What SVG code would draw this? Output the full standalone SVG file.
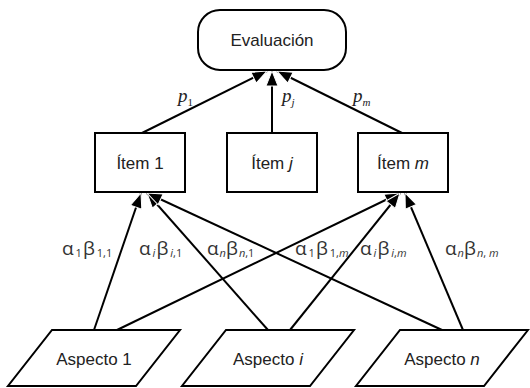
<svg xmlns="http://www.w3.org/2000/svg" width="530" height="388" viewBox="0 0 530 388">
  <style>
    .shape { fill: #fff; stroke: #000; stroke-width: 2; }
    .lbl { font-family: "Liberation Sans", Arial, sans-serif; font-size: 17px; fill: #222; text-anchor: middle; }
    .edge { stroke: #000; stroke-width: 2; fill: none; marker-end: url(#arrow); }
    .w { font-family: "Liberation Serif", "Times New Roman", serif; font-style: italic; font-size: 19px; fill: #222; }
    .g { font-family: "Open Sans", "Liberation Sans", sans-serif; font-size: 19px; fill: #333; }
    .sub { font-size: 11px; }
    .it { font-style: italic; }
  </style>
  <defs>
    <marker id="arrow" markerUnits="userSpaceOnUse" markerWidth="18" markerHeight="14" refX="16" refY="7" orient="auto">
      <path d="M1,1 L16,7 L1,13 Z" fill="#000" stroke="#fff" stroke-width="1"/>
    </marker>
  </defs>

  <!-- connectors -->
  <g id="connectors">
    <!-- items to evaluation -->
    <line class="edge" x1="142" y1="133" x2="267" y2="71"/>
    <line class="edge" x1="272" y1="133" x2="272" y2="71"/>
    <line class="edge" x1="402" y1="133" x2="277" y2="71"/>
    <!-- aspects to item 1 -->
    <line class="edge" x1="94" y1="330" x2="141" y2="193"/>
    <line class="edge" x1="268" y1="330" x2="147" y2="193"/>
    <line class="edge" x1="442" y1="330" x2="147" y2="193"/>
    <!-- aspects to item m -->
    <line class="edge" x1="117" y1="330" x2="400" y2="193"/>
    <line class="edge" x1="290" y1="330" x2="400" y2="193"/>
    <line class="edge" x1="463" y1="330" x2="405" y2="193"/>
  </g>

  <!-- weights -->
  <g id="weights">
    <text class="w" x="178" y="102">p<tspan class="sub" dy="4" font-style="normal">1</tspan></text>
    <text class="w" x="282" y="102">p<tspan class="sub" dy="4">j</tspan></text>
    <text class="w" x="353" y="102">p<tspan class="sub" dy="4">m</tspan></text>

    <text class="g" x="62" y="255">α<tspan class="sub" dx="2" dy="2">1</tspan><tspan dx="1" dy="-2">β</tspan><tspan class="sub" dx="2" dy="2">1,1</tspan></text>
    <text class="g" x="139" y="255">α<tspan class="sub it" dx="2" dy="2">i</tspan><tspan dx="1" dy="-2">β</tspan><tspan class="sub" dx="2" dy="2"><tspan class="it">i</tspan>,1</tspan></text>
    <text class="g" x="207" y="255">α<tspan class="sub it" dx="1" dy="2">n</tspan><tspan dx="0" dy="-2">β</tspan><tspan class="sub" dx="1" dy="2"><tspan class="it">n</tspan>,1</tspan></text>

    <text class="g" x="295" y="255">α<tspan class="sub" dx="2" dy="2">1</tspan><tspan dx="1" dy="-2">β</tspan><tspan class="sub" dx="2" dy="2">1,<tspan class="it">m</tspan></tspan></text>
    <text class="g" x="360" y="255">α<tspan class="sub it" dx="2" dy="2">i</tspan><tspan dx="1" dy="-2">β</tspan><tspan class="sub" dx="2" dy="2"><tspan class="it">i</tspan>,<tspan class="it">m</tspan></tspan></text>
    <text class="g" x="445" y="255">α<tspan class="sub it" dx="1" dy="2">n</tspan><tspan dx="0" dy="-2">β</tspan><tspan class="sub" dx="1" dy="2"><tspan class="it">n</tspan>, <tspan class="it">m</tspan></tspan></text>
  </g>

  <!-- evaluation -->
  <g id="evaluacion">
    <rect class="shape" x="198" y="10" width="148" height="60" rx="22" ry="22"/>
    <text class="lbl" x="272" y="46">Evaluación</text>
  </g>

  <!-- items -->
  <g id="item-1">
    <rect class="shape" x="95" y="133" width="90" height="59"/>
    <text class="lbl" x="140" y="169">Ítem 1</text>
  </g>
  <g id="item-j">
    <rect class="shape" x="227" y="133" width="90" height="59"/>
    <text class="lbl" x="272" y="169">Ítem <tspan class="it">j</tspan></text>
  </g>
  <g id="item-m">
    <rect class="shape" x="358" y="133" width="90" height="59"/>
    <text class="lbl" x="403" y="169">Ítem <tspan class="it">m</tspan></text>
  </g>

  <!-- aspects -->
  <g id="aspecto-1">
    <polygon class="shape" points="52,330 180,330 136,386 8,386"/>
    <text class="lbl" x="94" y="365">Aspecto 1</text>
  </g>
  <g id="aspecto-i">
    <polygon class="shape" points="226,330 354,330 310,386 182,386"/>
    <text class="lbl" x="268" y="365">Aspecto <tspan class="it">i</tspan></text>
  </g>
  <g id="aspecto-n">
    <polygon class="shape" points="400,330 528,330 484,386 356,386"/>
    <text class="lbl" x="442" y="365">Aspecto <tspan class="it">n</tspan></text>
  </g>
</svg>
